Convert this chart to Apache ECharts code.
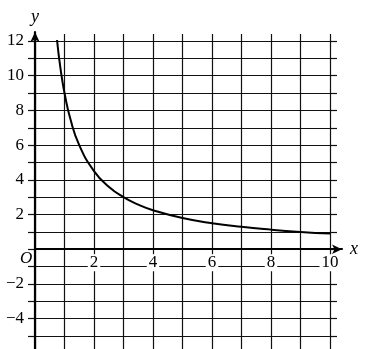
<!DOCTYPE html>
<html><head><meta charset="utf-8">
<script src="https://cdn.jsdelivr.net/npm/echarts@6/dist/echarts.min.js"></script>
<style>html,body{margin:0;padding:0;background:#fff}#c{width:367px;height:349px}</style>
</head><body><div id="c"></div>
<script>
const curveX = [0.745, 0.8, 0.85, 0.9, 1, 1.2, 1.5, 2, 2.5, 3, 3.5, 4, 5, 6, 7, 8, 9, 10];
const curveY = [12.1, 11.25, 10.6, 10, 9, 7.5, 6, 4.5, 3.6, 3, 2.57, 2.25, 1.8, 1.5, 1.29, 1.13, 1, 0.9];
const xTickLabels = [2, 4, 6, 8, 10];
const yTickLabels = [12, 10, 8, 6, 4, 2, -2, -4];

const FONT = '"Liberation Serif", "DejaVu Serif", serif';
const INK = '#111';
const gridLine = { color: INK, width: 1.2 };
const axisStroke = { color: '#000', width: 2.2 };
const fmtNum = v => (v < 0 ? '\u2212' + (-v) : '' + v);
const hiddenAxis = (g) => ({ gridIndex: g, type: 'value', min: 0, max: 1, show: false });

const chart = echarts.init(document.getElementById('c'));
chart.setOption({
  animation: false,
  grid: [
    { left: 35, right: 37, top: 41, bottom: 13, containLabel: false, outerBoundsMode: 'none' },
    { left: 35, right: 25, top: 32, bottom: 0, containLabel: false, outerBoundsMode: 'none' },
    { left: 35, right: 25, top: 32, bottom: 99.76, containLabel: false, outerBoundsMode: 'none' }
  ],
  xAxis: [
    { gridIndex: 0, type: 'value', min: 0, max: 10, interval: 1, position: 'bottom',
      axisLine: { show: false, onZero: false },
      axisTick: { show: true, length: 13, lineStyle: gridLine },
      axisLabel: { show: false },
      splitLine: { show: true, lineStyle: gridLine } },
    { gridIndex: 0, type: 'value', min: 0, max: 10, interval: 1, position: 'top',
      axisLine: { show: false, onZero: false },
      axisTick: { show: true, length: 7, lineStyle: gridLine },
      axisLabel: { show: false },
      splitLine: { show: false } },
    hiddenAxis(1),
    { gridIndex: 2, type: 'value', min: 0, max: 10.407, interval: 1, position: 'bottom', z: 5,
      axisLine: { show: true, onZero: false, symbol: ['none', 'arrow'], symbolSize: [7, 10], lineStyle: axisStroke },
      axisTick: { show: false },
      splitLine: { show: false },
      axisLabel: {
        margin: 5,
        formatter: v => (xTickLabels.includes(v) ? '{a|' + v + '}' : ''),
        rich: { a: { fontFamily: FONT, fontSize: 17, color: '#000', backgroundColor: '#fff', padding: [0, 2, 0, 2] } }
      },
      name: 'x', nameLocation: 'end', nameGap: 8,
      nameTextStyle: { fontFamily: FONT, fontStyle: 'italic', fontSize: 18, color: '#000', padding: [0, 0, 7, 0] } }
  ],
  yAxis: [
    { gridIndex: 0, type: 'value', min: -5, max: 12, interval: 1, position: 'left',
      axisLine: { show: false, onZero: false },
      axisTick: { show: true, length: 7, lineStyle: gridLine },
      splitLine: { show: true, lineStyle: gridLine },
      axisLabel: { margin: 11, fontFamily: FONT, fontSize: 17, color: '#000',
        formatter: v => (yTickLabels.includes(v) ? fmtNum(v) : '') } },
    { gridIndex: 0, type: 'value', min: -5, max: 12, interval: 1, position: 'right',
      axisLine: { show: false, onZero: false },
      axisTick: { show: true, length: 7, lineStyle: gridLine },
      axisLabel: { show: false },
      splitLine: { show: false } },
    { gridIndex: 1, type: 'value', min: -5.749, max: 12.519, position: 'left', z: 5,
      axisLine: { show: true, onZero: false, symbol: ['none', 'arrow'], symbolSize: [7, 10], lineStyle: axisStroke },
      axisTick: { show: false },
      axisLabel: { show: false },
      splitLine: { show: false },
      name: 'y', nameLocation: 'end', nameGap: 6,
      nameTextStyle: { fontFamily: FONT, fontStyle: 'italic', fontSize: 18, color: '#000' } },
    hiddenAxis(2)
  ],
  graphic: [
    { type: 'text', left: 20, top: 250, style: { text: 'O', font: 'italic 17px "Liberation Serif"', fill: '#000' } }
  ],
  series: [
    { type: 'line', xAxisIndex: 0, yAxisIndex: 0, z: 3,
      data: curveX.map((x, i) => [x, curveY[i]]),
      smooth: true, showSymbol: false,
      lineStyle: { color: '#000', width: 2 } }
  ]
});
</script></body></html>
